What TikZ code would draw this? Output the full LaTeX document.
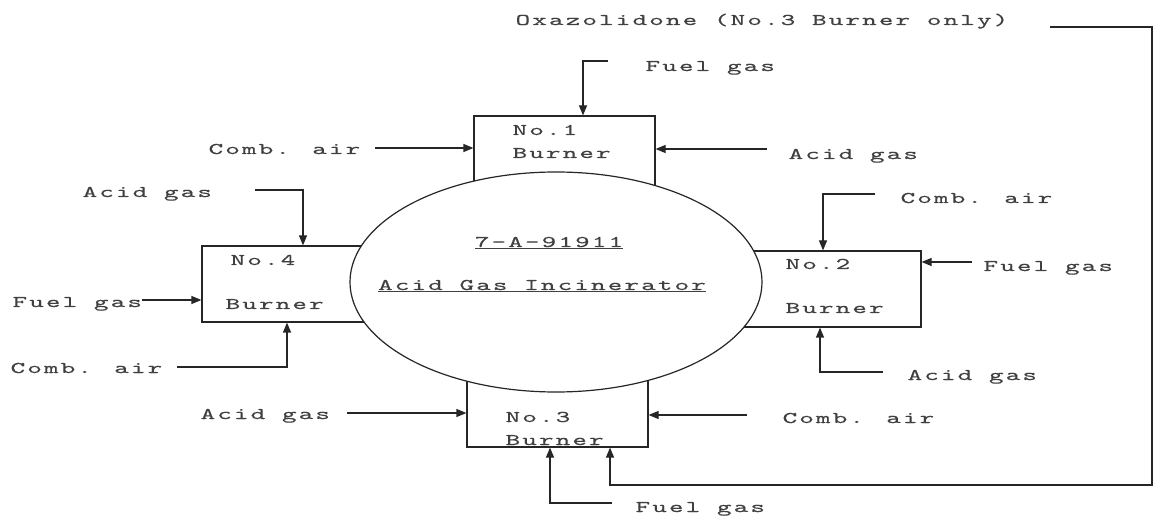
\documentclass[tikz,border=0pt]{standalone}
\usepackage{fontspec}
\usepackage{tikz}
\usetikzlibrary{positioning,arrows.meta,shapes.geometric}
\newfontfamily\typewr[FakeStretch=1.7,LetterSpace=13,FakeBold=0.3]{lmmono10-regular.otf}

\begin{document}
\begin{tikzpicture}
[
x=1bp, y=-1bp, line width=1.2bp, draw=black!85,
burner/.style={rectangle, draw, inner sep=0pt},
text-a/.style={anchor=west, inner sep=0pt, text height=10bp, text depth=0bp,
  text=black!75, font=\typewr\fontsize{16.4}{18}\selectfont},
flow/.style={-{Triangle[length=10bp,width=8bp]}}
]
\useasboundingbox (0,0) rectangle (1155,516);

% burners, drawn first so the vessel hides their inner edges
\node (burner-1) [burner, minimum width=181bp, minimum height=84bp] at (564.5,158) {};
\node (burner-4) [burner, minimum width=173bp, minimum height=76bp] at (288.5,284) {};
\node (burner-2) [burner, minimum width=186bp, minimum height=76bp] at (828,289)   {};
\node (burner-3) [burner, minimum width=181bp, minimum height=77bp] at (557.5,408.5) {};

% vessel
\node (incin) [ellipse, draw, fill=white, inner sep=0pt,
  minimum width=412bp, minimum height=220bp] at (556,282) {};
\node (incin-id)   [text-a, anchor=center] at (549,242) {\underline{7-A-91911}};
\node (incin-name) [text-a, anchor=center] at (542,285) {\underline{Acid Gas Incinerator}};

% burner texts
\node (burner-1-no)   [text-a] at (512,130) {No.1};
\node (burner-1-name) [text-a, below = 23bp of burner-1-no.west, anchor=west] {Burner};
\node (burner-4-no)   [text-a] at (230,260) {No.4};
\node (burner-4-name) [text-a, below = 44bp of burner-4-no.west, anchor=west, xshift=-5bp] {Burner};
\node (burner-2-no)   [text-a] at (785,264) {No.2};
\node (burner-2-name) [text-a, below = 44bp of burner-2-no.west, anchor=west] {Burner};
\node (burner-3-no)   [text-a] at (505,417) {No.3};
\node (burner-3-name) [text-a, below = 23bp of burner-3-no.west, anchor=west] {Burner};

% stream labels
\node (oxa-lbl)    [text-a] at (515,20)  {Oxazolidone (No.3 Burner only)};
\node (fuel-1-lbl) [text-a] at (645,66)  {Fuel gas};
\node (air-1-lbl)  [text-a] at (208,149) {Comb. air};
\node (acid-1-lbl) [text-a] at (788,154) {Acid gas};
\node (acid-4-lbl) [text-a] at (82,192)  {Acid gas};
\node (fuel-4-lbl) [text-a] at (12,302)  {Fuel gas};
\node (air-4-lbl)  [text-a] at (10,368)  {Comb. air};
\node (air-2-lbl)  [text-a] at (900,198) {Comb. air};
\node (fuel-2-lbl) [text-a] at (983,266) {Fuel gas};
\node (acid-2-lbl) [text-a] at (907,375) {Acid gas};
\node (acid-3-lbl) [text-a] at (200,414) {Acid gas};
\node (air-3-lbl)  [text-a] at (782,418) {Comb. air};
\node (fuel-3-lbl) [text-a] at (635,507) {Fuel gas};

% free ends of the feed lines
\coordinate (fuel-1-s) at (608,61);
\coordinate (air-1-s)  at (375,148);
\coordinate (acid-1-s) at (767,149);
\coordinate (acid-4-s) at (255,190);
\coordinate (fuel-4-s) at (142,300);
\coordinate (air-4-s)  at (177,367);
\coordinate (air-2-s)  at (875,194);
\coordinate (fuel-2-s) at (972,262);
\coordinate (acid-2-s) at (883,372);
\coordinate (acid-3-s) at (347,413);
\coordinate (air-3-s)  at (747,415);
\coordinate (fuel-3-s) at (612,503);
\coordinate (oxa-s)    at (1050,27);
\coordinate (oxa-k)    at (1152,27);
\coordinate (oxa-r)    at (1152,485);

% feed lines
\draw [flow] (fuel-1-s) -| ([xshift=18.5bp]burner-1.north);
\draw [flow] (air-1-s)  -- (burner-1.west |- air-1-s);
\draw [flow] (acid-1-s) -- (burner-1.east |- acid-1-s);
\draw [flow] (acid-4-s) -| ([xshift=14.5bp]burner-4.north);
\draw [flow] (fuel-4-s) -- (burner-4.west |- fuel-4-s);
\draw [flow] (air-4-s)  -| ([xshift=-1.5bp]burner-4.south);
\draw [flow] (air-2-s)  -| ([xshift=-5bp]burner-2.north);
\draw [flow] (fuel-2-s) -- (burner-2.east |- fuel-2-s);
\draw [flow] (acid-2-s) -| ([xshift=-8bp]burner-2.south);
\draw [flow] (acid-3-s) -- (burner-3.west |- acid-3-s);
\draw [flow] (air-3-s)  -- (burner-3.east |- air-3-s);
\draw [flow] (fuel-3-s) -| ([xshift=-7.5bp]burner-3.south);
\draw [flow] (oxa-s) -- (oxa-k) -- (oxa-r) -| ([xshift=52.5bp]burner-3.south);
\end{tikzpicture}
\end{document}
